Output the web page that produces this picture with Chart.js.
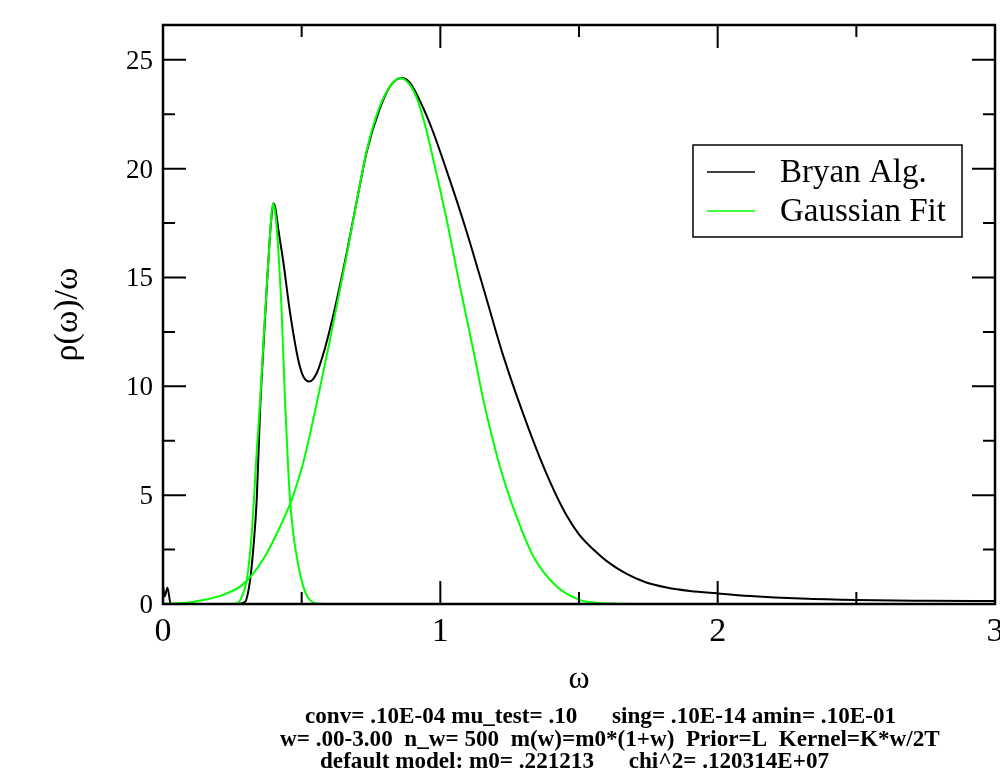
<!DOCTYPE html>
<html>
<head>
<meta charset="utf-8">
<title>rho(w)/w</title>
<script src="https://cdn.jsdelivr.net/npm/chart.js@4.4.1/dist/chart.umd.min.js"></script>
<style>
    html, body { margin: 0; padding: 0; background: #fff; }
    canvas { display: block; }
</style>
</head>
<body>
<canvas id="spectrum" width="1000" height="774"></canvas>
<script>
// Data -----------------------------------------------------------------------------------

const bryanX = [0, 0.006, 0.016, 0.028, 0.1, 0.2, 0.27, 0.296, 0.314, 0.326, 0.338, 0.35,
    0.362, 0.374, 0.385, 0.392, 0.398, 0.405, 0.416, 0.434, 0.458, 0.488, 0.506, 0.528,
    0.554, 0.585, 0.62, 0.662, 0.7, 0.735, 0.78, 0.82, 0.86, 0.89, 0.927, 0.975, 1.023,
    1.065, 1.107, 1.167, 1.227, 1.323, 1.396, 1.456, 1.5, 1.552, 1.6, 1.672, 1.74, 1.816,
    1.9, 1.997, 2.117, 2.3, 2.5, 2.75, 3.0];
const bryanY = [0.85, 0.35, 0.75, 0, 0, 0, 0, 0.1, 1.1, 2.6, 4.8, 8.9,
    11.8, 14.5, 16.8, 17.9, 18.4, 18.2, 17.2, 15.7, 13.4, 11.2, 10.45, 10.22,
    10.6, 11.8, 13.6, 16.1, 18.6, 20.8, 22.7, 23.8, 24.16, 23.95, 23.1, 21.65, 19.9,
    18.3, 16.6, 14.0, 11.4, 7.9, 5.6, 4.05, 3.2, 2.5, 1.97, 1.38, 1.0, 0.76,
    0.6, 0.49, 0.37, 0.25, 0.18, 0.15, 0.14];

const gaussBroadX = [0, 0.05, 0.1, 0.145, 0.2, 0.23, 0.278, 0.326, 0.374, 0.422, 0.464,
    0.49, 0.506, 0.53, 0.554, 0.6, 0.662, 0.7, 0.735, 0.78, 0.82, 0.855, 0.89, 0.915,
    0.945, 0.975, 1.023, 1.071, 1.125, 1.155, 1.215, 1.275, 1.336, 1.42, 1.504, 1.56,
    1.612, 1.7, 2.38];
const gaussBroadY = [0, 0.03, 0.08, 0.18, 0.35, 0.49, 0.8, 1.41, 2.33, 3.55, 4.78,
    5.8, 6.5, 7.8, 9.2, 12.0, 16.0, 18.6, 20.86, 22.8, 23.8, 24.16, 23.85, 23.25,
    22.0, 20.4, 17.65, 14.58, 11.29, 9.38, 6.31, 4.01, 2.17, 0.8, 0.18, 0.06,
    0.02, 0, 0];

const gaussNarrowX = [0.2, 0.266, 0.285, 0.302, 0.32, 0.338, 0.35, 0.362, 0.374, 0.383,
    0.39, 0.396, 0.403, 0.41, 0.418, 0.428, 0.44, 0.45, 0.458, 0.47, 0.482, 0.494, 0.506,
    0.518, 0.53, 0.55, 0.6];
const gaussNarrowY = [0, 0.02, 0.35, 1.1, 3.25, 7.0, 9.3, 12.0, 14.6, 16.4,
    17.7, 18.4, 18.1, 17.3, 15.8, 13.4, 9.3, 6.6, 4.8, 3.2, 2.2, 1.4, 0.8,
    0.4, 0.18, 0.03, 0];

const xTicks = [0, 1, 2, 3];
const xMinorTicks = [0.5, 1.5, 2.5];
const yTicks = [0, 5, 10, 15, 20, 25];
const yMinorTicks = [2.5, 7.5, 12.5, 17.5, 22.5];

const xTitle = 'ω';
const yTitle = 'ρ(ω)/ω';

const footerLines = [
    'conv= .10E-04 mu_test= .10      sing= .10E-14 amin= .10E-01',
    'w= .00-3.00  n_w= 500  m(w)=m0*(1+w)  Prior=L  Kernel=K*w/2T',
    'default model: m0= .221213      chi^2= .120314E+07'
];

// Constants ------------------------------------------------------------------------------

const SERIF = '"Liberation Serif", "Times New Roman", serif';
const GREEN = '#00ff00';

const MAJOR_TICK = 23;
const MINOR_TICK = 12;

const LEGEND_BOX = { x: 693, y: 145, w: 269, h: 92 };
const LEGEND_ROWS = [172, 211];

const FOOTER_X = [305, 280, 320];
const FOOTER_Y = [723, 746, 768];
const FOOTER_WIDTH = 660;   // width of the widest (second) line

// Helpers --------------------------------------------------------------------------------

let toPoints = function (xs, ys) {
    return xs.map(function (x, i) {
        return { x: x, y: ys[i] };
    });
};

let line = function (ctx, x1, y1, x2, y2) {
    ctx.moveTo(x1, y1);
    ctx.lineTo(x2, y2);
};

// Frame, ticks, titles, legend and footer drawn in the xmgrace manner
const gracePlugin = {
    id: 'grace',
    afterDatasetsDraw: function (chart) {
        const ctx = chart.ctx;
        const a = chart.chartArea;
        const xs = chart.scales.x;
        const ys = chart.scales.y;

        ctx.save();
        ctx.strokeStyle = '#000';
        ctx.fillStyle = '#000';

        // frame
        ctx.lineWidth = 2.5;
        ctx.strokeRect(a.left, a.top, a.right - a.left, a.bottom - a.top);

        // inward ticks on all four sides
        ctx.lineWidth = 2;
        ctx.beginPath();
        let xTick = function (v, len) {
            let px = xs.getPixelForValue(v);
            line(ctx, px, a.bottom, px, a.bottom - len);
            line(ctx, px, a.top, px, a.top + len);
        };
        let yTick = function (v, len) {
            let py = ys.getPixelForValue(v);
            line(ctx, a.left, py, a.left + len, py);
            line(ctx, a.right, py, a.right - len, py);
        };
        xTicks.forEach(function (v) { xTick(v, MAJOR_TICK); });
        xMinorTicks.forEach(function (v) { xTick(v, MINOR_TICK); });
        yTicks.forEach(function (v) { yTick(v, MAJOR_TICK); });
        yMinorTicks.forEach(function (v) { yTick(v, MINOR_TICK); });
        ctx.stroke();

        // tick labels
        ctx.font = '34px ' + SERIF;
        ctx.textAlign = 'center';
        ctx.textBaseline = 'alphabetic';
        xTicks.forEach(function (v) {
            ctx.fillText(String(v), xs.getPixelForValue(v), a.bottom + 37);
        });
        ctx.font = '27px ' + SERIF;
        ctx.textAlign = 'right';
        yTicks.forEach(function (v) {
            ctx.fillText(String(v), a.left - 10, ys.getPixelForValue(v) + 9);
        });

        // axis titles
        ctx.font = '32px ' + SERIF;
        ctx.textAlign = 'center';
        ctx.fillText(xTitle, (a.left + a.right) / 2, a.bottom + 84);
        ctx.save();
        ctx.translate(68, (a.top + a.bottom) / 2);
        ctx.rotate(-Math.PI / 2);
        ctx.font = '34px ' + SERIF;
        ctx.textBaseline = 'middle';
        ctx.fillText(yTitle, 0, 0);
        ctx.restore();

        // legend
        ctx.lineWidth = 1.5;
        ctx.strokeRect(LEGEND_BOX.x, LEGEND_BOX.y, LEGEND_BOX.w, LEGEND_BOX.h);
        ctx.font = '33px ' + SERIF;
        ctx.textAlign = 'left';
        ctx.textBaseline = 'middle';
        let entries = chart.data.datasets.filter(function (ds) { return ds.showInLegend !== false; });
        entries.forEach(function (ds, i) {
            let y = LEGEND_ROWS[i];
            ctx.strokeStyle = ds.borderColor;
            ctx.lineWidth = 1.5;
            ctx.beginPath();
            line(ctx, LEGEND_BOX.x + 14, y, LEGEND_BOX.x + 62, y);
            ctx.stroke();
            ctx.fillStyle = '#000';
            ctx.fillText(ds.label, LEGEND_BOX.x + 87, y + 1);
        });

        // run parameters below the plot
        ctx.textBaseline = 'alphabetic';
        ctx.font = 'bold 18px ' + SERIF;
        let size = 18 * FOOTER_WIDTH / ctx.measureText(footerLines[1]).width;
        ctx.font = 'bold ' + size.toFixed(2) + 'px ' + SERIF;
        footerLines.forEach(function (t, i) {
            ctx.fillText(t, FOOTER_X[i], FOOTER_Y[i]);
        });

        ctx.restore();
    }
};

// Chart ----------------------------------------------------------------------------------

let lineDataset = function (label, xs, ys, color, order, inLegend) {
    return {
        label: label,
        data: toPoints(xs, ys),
        borderColor: color,
        borderWidth: 2,
        pointRadius: 0,
        fill: false,
        cubicInterpolationMode: 'monotone',
        order: order,
        showInLegend: inLegend
    };
};

new Chart(document.getElementById('spectrum').getContext('2d'), {
    type: 'line',
    data: {
        datasets: [
            lineDataset('Bryan Alg.', bryanX, bryanY, '#000000', 2, true),
            lineDataset('Gaussian Fit', gaussBroadX, gaussBroadY, GREEN, 1, true),
            lineDataset('Gaussian Fit', gaussNarrowX, gaussNarrowY, GREEN, 0, false)
        ]
    },
    options: {
        responsive: false,
        animation: false,
        layout: { padding: { left: 163, right: 5, top: 25, bottom: 170 } },
        scales: {
            x: { type: 'linear', min: 0, max: 3, display: false },
            y: { type: 'linear', min: 0, max: 26.6, display: false }
        },
        plugins: {
            legend: { display: false },
            tooltip: { enabled: false }
        }
    },
    plugins: [gracePlugin]
});
</script>
</body>
</html>
